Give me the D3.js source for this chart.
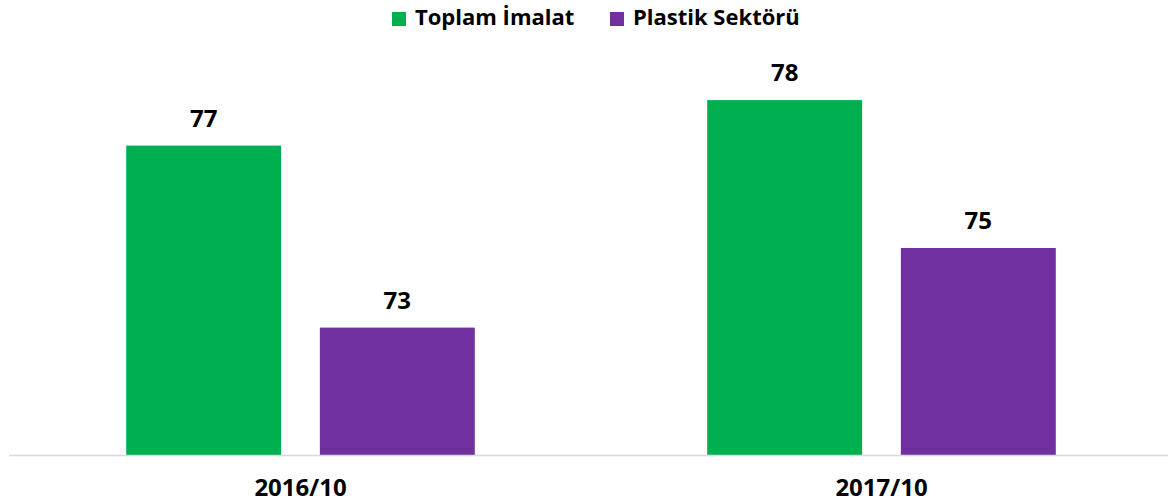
<!DOCTYPE html>
<html>
<head>
<meta charset="utf-8">
<script src="https://cdn.jsdelivr.net/npm/d3@7"></script>
<style>
	body { margin: 0; background: #fff; }
	text { font-family: "Open Sans", sans-serif; font-weight: bold; fill: #000; }
</style>
</head>
<body>
<div class="svg-container"></div>
<script>
// size of the page and the baseline of the bars
var pageWidth = 1168,
	pageHeight = 504,
	baseline = 455;

// data
var categories = ["2016/10", "2017/10"];
var seriesNames = ["Toplam İmalat", "Plastik Sektörü"];
var toplamImalat = [76.8, 77.8];
var plastikSektoru = [72.8, 74.55];
var seriesColors = ["#00b050", "#7030a0"];

var yMin = 70,
	yMax = 80;

function plot() {
	var svg = d3.select(".svg-container")
	.append("svg")
	.attr("width", pageWidth)
	.attr("height", pageHeight);

	var x0 = d3.scaleBand().domain(categories).range([10, 1172]);
	var x1 = d3.scaleBand().domain(seriesNames).range([0, x0.bandwidth()])
	.paddingInner(0.2).paddingOuter(0.6);
	var y = d3.scaleLinear().domain([yMin, yMax]).range([baseline, 0]);

	var rows = [];
	categories.forEach(function(c, i) {
		rows.push({ cat: c, series: seriesNames[0], value: toplamImalat[i], color: seriesColors[0] });
		rows.push({ cat: c, series: seriesNames[1], value: plastikSektoru[i], color: seriesColors[1] });
	});

	// bars
	svg.selectAll(".bar").data(rows)
	.enter()
	.append("rect")
	.attr("class", "bar")
	.attr("x", function(d) { return x0(d.cat) + x1(d.series); })
	.attr("y", function(d) { return y(d.value); })
	.attr("width", x1.bandwidth())
	.attr("height", function(d) { return baseline - y(d.value); })
	.attr("fill", function(d) { return d.color; });

	// value labels
	svg.selectAll(".val").data(rows)
	.enter()
	.append("text")
	.attr("class", "val")
	.attr("x", function(d) { return x0(d.cat) + x1(d.series) + x1.bandwidth() / 2; })
	.attr("y", function(d) { return y(d.value) - 19; })
	.attr("text-anchor", "middle")
	.style("font-size", "24px")
	.text(function(d) { return d3.format(".0f")(d.value); });

	// x axis line
	svg.append("line")
	.attr("x1", 9)
	.attr("x2", pageWidth)
	.attr("y1", baseline + 0.5)
	.attr("y2", baseline + 0.5)
	.attr("stroke", "#d9d9d9")
	.attr("stroke-width", 1.5);

	// category labels
	svg.selectAll(".cat").data(categories)
	.enter()
	.append("text")
	.attr("class", "cat")
	.attr("x", function(d) { return x0(d) + x0.bandwidth() / 2; })
	.attr("y", 496)
	.attr("text-anchor", "middle")
	.style("font-size", "24px")
	.text(function(d) { return d; });

	drawLegend(svg);
}

function drawLegend(svg) {
	var legendX = [392, 610];

	var items = svg.selectAll(".legend").data(seriesNames)
	.enter()
	.append("g")
	.attr("class", "legend")
	.attr("transform", function(d, i) { return "translate(" + legendX[i] + ",0)"; });

	items.append("rect")
	.attr("x", 0)
	.attr("y", 12)
	.attr("width", 14)
	.attr("height", 14)
	.attr("fill", function(d, i) { return seriesColors[i]; });

	items.append("text")
	.attr("x", 23)
	.attr("y", 25)
	.style("font-size", "22px")
	.text(function(d) { return d; });
}

plot();
</script>
</body>
</html>
